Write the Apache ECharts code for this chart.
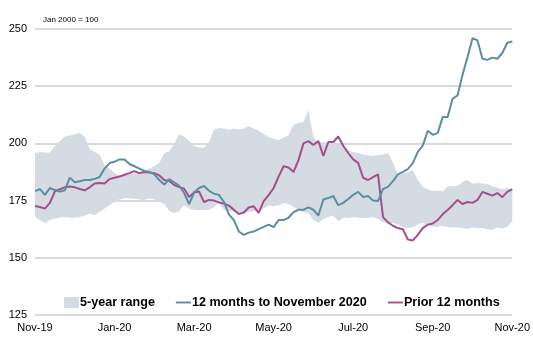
<!DOCTYPE html>
<html>
<head>
<meta charset="utf-8">
<script src="https://cdn.jsdelivr.net/npm/echarts@6/dist/echarts.min.js"></script>
<style>
html,body{margin:0;padding:0;background:#fff;}
#chart{width:533px;height:337px;}
</style>
</head>
<body>
<div id="chart"></div>
<script>
// Tick labels along the x axis (every 2 months, 16 samples apart)
var xTickLabels = ['Nov-19','Jan-20','Mar-20','May-20','Jul-20','Sep-20','Nov-20'];
var yTicks = [125, 150, 175, 200, 225, 250];

// 12 months to November 2020 (index Jan 2000 = 100)
var recent12 = [179.2,180,177.5,180.5,179.6,179,179.5,185,183,183.5,184,184,184.5,185.3,189,191.4,192,193,193,191,190,189,188,187.5,186.5,184,182,184.4,183,181.5,178.3,173.5,178.5,180.5,181.4,179.3,178,177.5,174.4,169,166.5,161.5,160,161,161.5,162.5,163.5,164.5,163.4,166.5,166.5,167.5,170,171,171,172,171,168.5,175.5,176.1,177,173,174,175.7,177.5,178.8,176.6,177,175,174.8,180,181,183.5,186.5,187.6,188.8,191.4,196.3,199,205.5,203.8,204.5,211.5,211.5,219.5,221,230,237.8,246,245,237,236.5,237.5,237,239.5,244,244.5];

// Prior 12 months
var prior12 = [172.6,172.2,171.5,174,179,180,180.8,181.2,180.8,180.1,179.5,180.8,182.5,182.7,182.5,184.4,185,185.5,186.3,187,187.9,187,187.5,187.3,187,186,184,183.6,181.8,180.9,180.2,176.6,178.5,179,174.4,175.3,175,174.2,173.7,172.8,171,169.1,169.8,172,172.5,169.6,174.8,177.4,180.5,185.5,190,189.5,187.5,192.7,200,201,199.3,201,194.5,200.6,200.6,203,199,195.8,193,191.5,185,184,185.3,186.5,167.8,165.5,164,163,162.5,158,157.6,160,163,164.5,165,166.5,169,170.9,173,175.3,173.5,174.4,174,175.3,178.8,178,177.2,178.3,176.5,178.8,180];

// 5-year range: upper and lower bounds
var rangeHigh = [195.8,196.2,196,196,199,201,203,203.5,204,204.5,202.8,197.5,196.2,195,190.5,189,187,186,186,186.5,187,187.5,188,189,190,191.4,195.8,196.5,200,204,203,201,199,198.2,198,200.6,206,206.7,206.5,205.9,206.5,206.2,206.5,207.5,206.5,205.5,204,202.8,202,201.5,202.5,203.7,208,209,209.4,214.6,202.5,200.6,200.5,200.5,200.5,200.2,199,197.1,196.2,195.8,195.2,194.7,194.5,194.8,195.2,195.8,191.8,186,187,187.5,188.4,184,181,180,179.2,179.4,179,181.3,181.3,181.5,183.1,184,182.5,182.7,182.5,182.3,181.3,180.7,180,180.5,179.8];
var rangeLow = [167.8,166.5,165.2,166.5,167.2,167.6,167.8,167.5,167.5,167.8,168.5,169.3,168.7,170,171.5,173,174.5,175.5,176,176,175.8,175.5,175.3,176,175.5,174.5,173.5,170.5,169.6,170.5,173,171.5,170.9,170.9,170.9,171,172.2,174,171,170.5,170,169.5,169.5,170,170.5,170.5,171.5,173,172.5,173,174,173.5,172.2,171,170,169.6,166.5,165.2,167,167.8,168.5,166,167.4,167.4,167.8,167.5,167.4,167.4,167.8,167,165.5,165.2,165.2,164.5,163.4,163,163.2,164.5,165.3,164.3,163.6,163.6,163.9,163.4,163.4,163.2,163,162.6,163.2,163,163,162.5,162.2,163.4,162.8,163.5,166];

var seriesNames = ['5-year range', '12 months to November 2020', 'Prior 12 months'];

var categories = recent12.map(function (_, i) { return i; });
var rangeSpan = rangeHigh.map(function (h, i) { return +(h - rangeLow[i]).toFixed(2); });
var step = (categories.length - 1) / (xTickLabels.length - 1);

var chart = echarts.init(document.getElementById('chart'), null, {renderer: 'canvas'});
var font = '"Liberation Sans", Arial, sans-serif';

chart.setOption({
  animation: false,
  backgroundColor: '#ffffff',
  textStyle: {fontFamily: font},
  title: {
    text: 'Jan 2000 = 100',
    left: 38, top: 11,
    textStyle: {fontSize: 8, fontWeight: 'normal', color: '#000', fontFamily: font}
  },
  grid: {left: 35, right: 18, top: 29, bottom: 22, containLabel: false},
  xAxis: {
    type: 'category',
    data: categories,
    boundaryGap: false,
    axisLine: {show: false},
    axisTick: {show: false},
    splitLine: {show: false},
    axisLabel: {
      interval: step - 1,
      color: '#000', fontSize: 11, fontFamily: font, margin: 7,
      formatter: function (v, i) { return xTickLabels[Math.round(i / step)] || ''; }
    }
  },
  yAxis: {
    type: 'value',
    min: yTicks[0], max: yTicks[yTicks.length - 1], interval: 25,
    axisLine: {show: false},
    axisTick: {show: false},
    axisLabel: {color: '#000', fontSize: 11, fontFamily: font, margin: 8},
    splitLine: {lineStyle: {color: '#d9d9d9', width: 2}}
  },
  legend: {
    left: 59, top: 291,
    itemGap: 21,
    itemWidth: 15, itemHeight: 11,
    textStyle: {fontSize: 12.6, fontWeight: 'bold', color: '#000', fontFamily: font, padding: [0, 0, 0, -4]},
    data: [
      {name: seriesNames[0], icon: 'rect'},
      {name: seriesNames[1], icon: 'path://M0,0 L16,0 L16,2 L0,2 Z'},
      {name: seriesNames[2], icon: 'path://M0,0 L16,0 L16,2 L0,2 Z'}
    ]
  },
  series: [
    {
      name: 'rangeBase', type: 'line', stack: 'band', data: rangeLow,
      symbol: 'none', lineStyle: {opacity: 0}, silent: true
    },
    {
      name: seriesNames[0], type: 'line', stack: 'band', data: rangeSpan,
      symbol: 'none', lineStyle: {opacity: 0},
      itemStyle: {color: '#d5dbe3'},
      areaStyle: {color: '#d5dbe3', opacity: 1}
    },
    {
      name: seriesNames[1], type: 'line', data: recent12,
      symbol: 'none', itemStyle: {color: '#5b8ea3'},
      lineStyle: {color: '#5b8ea3', width: 2}, z: 4
    },
    {
      name: seriesNames[2], type: 'line', data: prior12,
      symbol: 'none', itemStyle: {color: '#a44f8d'},
      lineStyle: {color: '#a44f8d', width: 2}, z: 3
    }
  ]
});
</script>
</body>
</html>
